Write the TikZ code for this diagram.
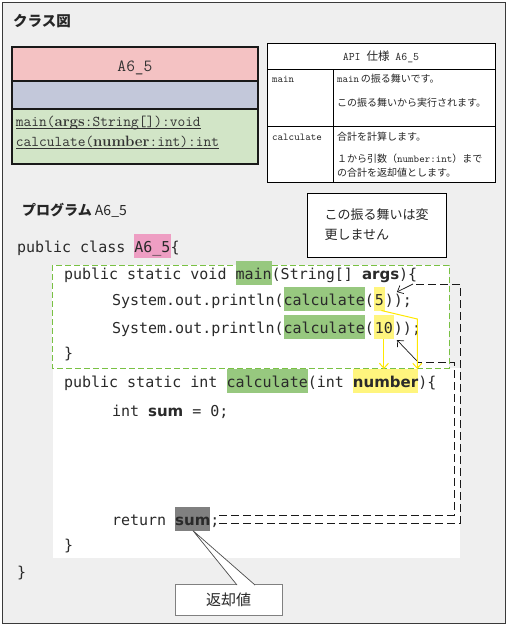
\documentclass[tikz,border=0pt]{standalone}
\usepackage{fontspec}
\usetikzlibrary{arrows.meta,calc}
\newfontfamily\jp{Noto Sans CJK JP}
\newfontfamily\codefont{DejaVu Sans Mono}
\newfontfamily\boldsans{DejaVu Sans}
\newcommand\csp{\mbox{\ }}
\definecolor{bggray}{HTML}{EFEFEF}
\definecolor{framecol}{HTML}{3A3A3A}
\definecolor{clspink}{HTML}{F4C2C3}
\definecolor{clsblue}{HTML}{C3C8DA}
\definecolor{clsgreen}{HTML}{D2E5C7}
\definecolor{hlgreen}{HTML}{97C87F}
\definecolor{hlpink}{HTML}{EE9EC3}
\definecolor{hlyellow}{HTML}{FFF57E}
\definecolor{hlgray}{HTML}{808080}
\definecolor{greendash}{HTML}{79C143}
\definecolor{yellowline}{HTML}{FFE800}
\definecolor{codetext}{HTML}{2A2A2A}
\definecolor{umltext}{HTML}{333333}
\tikzset{
  code/.style={font=\codefont\fontsize{15}{18}\selectfont, text=codetext, inner sep=0pt, outer sep=0pt, anchor=base west},
  bcode/.style={code, font=\boldsans\bfseries\fontsize{15}{18}\selectfont},
  hl/.style={code, fill=#1, text height=18pt, text depth=5.5pt},
  bhl/.style={bcode, fill=#1, text height=18pt, text depth=5.5pt},
  clsborder/.style={draw=black!90, line width=1.6pt},
  umlt/.style={font=\ttfamily\fontsize{15}{18}\selectfont, text=umltext, inner sep=0pt, outer sep=0pt, anchor=base west},
  umlline/.style={draw=umltext, line width=0.8pt},
  tabline/.style={draw=black, line width=0.9pt},
  tabt/.style={font=\ttfamily\fontsize{10.5}{12}\selectfont, inner sep=0pt, anchor=west, text=black!85},
  jpt/.style={font=\jp\fontsize{10}{12}\selectfont, inner sep=0pt, anchor=west, text=black!85},
  blkdash/.style={draw=black!90, line width=0.9pt, dash pattern=on 8pt off 4pt},
  blkarrow/.style={draw=black!90, line width=0.7pt, -{Straight Barb[length=5pt,width=9pt]}},
  yarrow/.style={draw=yellowline, line width=1pt, -{Straight Barb[length=5pt,width=9pt]}},
}
\begin{document}
\begin{tikzpicture}[x=1pt,y=-1pt]
\useasboundingbox (0,0) rectangle (509,627);
% frame
\draw[line width=1.2pt, draw=framecol, fill=bggray] (2.5,2.5) rectangle (505.5,623.5);
% heading
\node[font=\jp\bfseries\fontsize{14.5}{16}\selectfont, anchor=west, inner sep=0pt, text=black!85] (h1) at (13,21) {クラス図};
% class box
\draw[clsborder, fill=clspink] (12,47) rectangle (258,81);
\draw[clsborder, fill=clsblue] (12,81) rectangle (258,109);
\draw[clsborder, fill=clsgreen] (12,109) rectangle (258,164);
\node[font=\ttfamily\fontsize{17}{20}\selectfont, text=umltext, inner sep=0pt, anchor=base] (clsname) at (135,71) {A6\_5};
\node[umlt] (m1) at (16,126) {main({\rmfamily\bfseries args}:String[]):void};
\node[umlt] (m2) at (16,146) {calculate({\rmfamily\bfseries number}:int):int};
\draw[umlline] ($(m1.base west)+(0,2.5)$) -- ($(m1.base east)+(0,2.5)$);
\draw[umlline] ($(m2.base west)+(0,2.5)$) -- ($(m2.base east)+(0,2.5)$);
% API table
\draw[tabline, fill=white] (267,43) rectangle (495,182);
\draw[tabline] (267,69) -- (495,69);
\draw[tabline] (267,126) -- (495,126);
\draw[tabline] (333,69) -- (333,182);
\node[inner sep=0pt, text=black!85] (apih) at (381,57) {{\ttfamily\fontsize{11.5}{13}\selectfont API\csp}{\jp\fontsize{11.5}{13}\selectfont 仕様}{\ttfamily\fontsize{11.5}{13}\selectfont \csp A6\_5}};
\node[tabt] (t1) at (272,79) {main};
\node[inner sep=0pt, anchor=west, text=black!85] (t2) at (337,79) {{\ttfamily\fontsize{10.5}{12}\selectfont main}{\jp\fontsize{10}{12}\selectfont\,の振る舞いです。}};
\node[jpt] (t3) at (337,103) {この振る舞いから実行されます。};
\node[tabt] (t4) at (272,137) {calculate};
\node[jpt] (t5) at (337,137) {合計を計算します。};
\node[inner sep=0pt, anchor=west, text=black!85] (t6) at (337,159) {{\jp\fontsize{10}{12}\selectfont １から引数（}{\ttfamily\fontsize{10.5}{12}\selectfont number:int}{\jp\fontsize{10}{12}\selectfont ）まで}};
\node[jpt] (t7) at (337,173) {の合計を返却値とします。};
% program heading
\node[font=\jp\bfseries\fontsize{14}{16}\selectfont, anchor=west, inner sep=0pt, text=black!85] (h2) at (22,210) {プログラム {\mdseries A6\_5}};
% note box
\node[draw=black, line width=1pt, fill=white, minimum width=139pt, minimum height=64pt, align=left, font=\jp\fontsize{13}{20}\selectfont, text=black!85] (note) at (376.5,225) {この振る舞いは変\\更しません};
% white panels
\fill[white] (53,368) rectangle (460,558);
\draw[draw=greendash, line width=1pt, dash pattern=on 6pt off 3pt, fill=white] (52,265) rectangle (449,368);
% code lines
\node[code] (c1a) at (17,252) {public class\csp};
\node[hl=hlpink] (c1b) at (c1a.base east) {A6\_5};
\node[code] (c1c) at (c1b.base east) {\{};
\node[code] (c2a) at (64,279) {public static void\csp};
\node[hl=hlgreen] (c2b) at (c2a.base east) {main};
\node[code] (c2c) at (c2b.base east) {(String[]\csp};
\node[bcode] (c2d) at (c2c.base east) {args};
\node[code] (c2e) at (c2d.base east) {)\{};
\node[code] (c3a) at (112,305) {System.out.println(};
\node[hl=hlgreen] (c3b) at (c3a.base east) {calculate};
\node[code] (c3c) at (c3b.base east) {(};
\node[hl=hlyellow, inner xsep=1pt] (c3d) at (c3c.base east) {5};
\node[code] (c3e) at (c3d.base east) {));};
\node[code] (c4a) at (112,333) {System.out.println(};
\node[hl=hlgreen] (c4b) at (c4a.base east) {calculate};
\node[code] (c4c) at (c4b.base east) {(};
\node[hl=hlyellow, inner xsep=1pt] (c4d) at (c4c.base east) {10};
\node[code] (c4e) at (c4d.base east) {));};
\node[code] (c5a) at (64,358) {\}};
\node[code] (c6a) at (64,387) {public static int\csp};
\node[hl=hlgreen] (c6b) at (c6a.base east) {calculate};
\node[code] (c6c) at (c6b.base east) {(int\csp};
\node[bhl=hlyellow] (c6d) at (c6c.base east) {number};
\node[code] (c6e) at (c6d.base east) {)\{};
\node[code] (c7a) at (112,416) {int\csp};
\node[bcode] (c7b) at (c7a.base east) {sum};
\node[code] (c7c) at (c7b.base east) {\csp=\csp0;};
\node[code] (c8a) at (112,525) {return\csp};
\node[bhl=hlgray] (c8b) at (c8a.base east) {sum};
\node[code] (c8c) at (c8b.base east) {;};
\node[code] (c9a) at (64,550) {\}};
\node[code] (c10a) at (17,577) {\}};
% black dashed connectors
\coordinate (inStart) at ($(c8c.base east)+(0,-10)$);
\coordinate (outStart) at ($(c8c.base east)+(0,-2)$);
\coordinate (inCorner) at (454,362);
\coordinate (outCorner) at (460,284);
\coordinate (inEnd) at (418,362);
\coordinate (outEnd) at (413,284);
\draw[blkdash] (inStart) -| (inCorner) -- (inEnd);
\draw[blkarrow] (inEnd) -- ($(c4d.south east)+(3,1.5)$);
\draw[blkdash] (outStart) -| (outCorner) -- (outEnd);
\draw[blkarrow] (outEnd) -- ($(c3e.base west)+(12,-13)$);
% yellow arrows
\coordinate (ynum) at ($(c6d.north east)+(-1,0)$);
\draw[yarrow] ($(c3d.south)+(2,0)$) -- (ynum |- 0,319) -- (ynum);
\draw[yarrow] (c4d.south) -- (c4d.south |- c6d.north);
% callout
\node[draw=black!50, line width=0.8pt, fill=white, minimum width=107pt, minimum height=31pt, font=\jp\fontsize{15}{17}\selectfont, text=black!85] (ret) at (228.5,599.5) {返却値};
\filldraw[fill=white, draw=black!70, line width=0.7pt] (237,585) -- (c8b.south) -- (255,585);
\end{tikzpicture}
\end{document}
